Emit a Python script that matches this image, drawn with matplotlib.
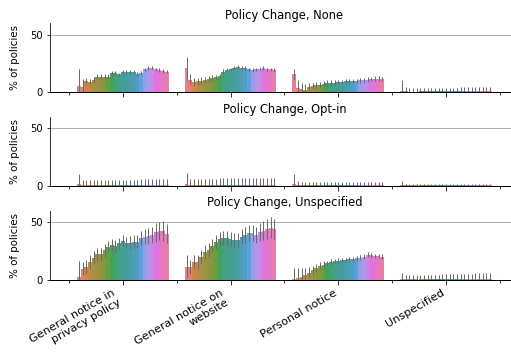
import matplotlib
matplotlib.use("Agg")
import matplotlib.pyplot as plt
import numpy as np
import seaborn as sns

categories = ["General notice in\nprivacy policy", "General notice on\nwebsite",
              "Personal notice", "Unspecified"]
panel_titles = ["Policy Change, None", "Policy Change, Opt-in", "Policy Change, Unspecified"]
n_hue = 25

# Panel: Policy Change, None
none_privacy = [5.5, 5, 10, 9, 10.5, 13.5, 13.5, 13.5, 13.5, 16.5, 17, 15.5, 17.5, 18, 17.5,
                17.5, 16, 17, 20, 21, 21.5, 20, 19.5, 18.5, 18]
none_privacy_err = [15, 6.5, 2.5, 2.5, 2.5, 2, 2, 2, 2, 2, 1.5, 1.5, 1.5, 1.5, 1.5,
                    1.5, 1.5, 1.5, 1.5, 1.5, 1.5, 1.5, 1.5, 1.5, 1.5]
none_website = [21, 11, 9, 9.5, 10, 11, 11.5, 12.5, 13, 14, 18, 19.5, 20, 21.5, 22,
                21, 21, 20, 19.5, 20, 20.5, 21, 20, 20, 19.5]
none_website_err = [10, 5, 3.5, 3, 3, 2.5, 2.5, 2.5, 2, 2, 2, 1.5, 1.5, 1.5, 1.5,
                    1.5, 1.5, 1.5, 1.5, 1.5, 1.5, 1.5, 1.5, 1.5, 1.5]
none_personal = [15.5, 4, 3, 2, 5, 5.5, 6, 6.5, 7.5, 8, 8.5, 8.5, 9, 9, 9.5,
                 9.5, 10, 10, 10.5, 10.5, 11, 11.5, 12, 12, 11.5]
none_personal_err = [5, 7, 5, 5, 3, 3, 3, 2.5, 2.5, 2.5, 2, 2, 2, 2, 2,
                     2, 2, 2, 2, 2, 2, 2, 2, 2, 2]
none_unspec = [1.5, 0.8, 0.6, 0.6, 0.6, 0.7, 0.7, 0.7, 0.8, 0.8, 0.8, 0.8, 0.9, 0.9, 0.9,
               0.9, 1.0, 1.0, 1.0, 1.0, 1.1, 1.1, 1.1, 1.2, 1.2]
none_unspec_err = [9.5, 3.5, 3, 3, 3, 3, 3, 3, 3, 3, 3, 3, 3.2, 3.2, 3.2,
                   3.2, 3.3, 3.3, 3.3, 3.4, 3.4, 3.4, 3.5, 3.5, 3.5]

# Panel: Policy Change, Opt-in
optin_privacy = [1.5, 0.6, 0.6, 0.6, 0.6, 0.6, 0.7, 0.7, 0.7, 0.7, 0.7, 0.7, 0.7, 0.8, 0.8,
                 0.8, 0.8, 0.8, 0.8, 0.8, 0.8, 0.8, 0.8, 0.8, 0.8]
optin_privacy_err = [9, 4.5, 4.3, 4.3, 4.3, 4.3, 4.4, 4.4, 4.4, 4.4, 4.5, 4.5, 4.5, 4.5, 4.5,
                     4.5, 4.5, 4.6, 4.6, 4.6, 4.6, 4.6, 4.7, 4.7, 4.7]
optin_website = [1.5, 0.8, 0.8, 0.8, 0.8, 0.9, 0.9, 0.9, 0.9, 1.0, 1.0, 1.0, 1.0, 1.0, 1.0,
                 1.0, 1.0, 1.0, 1.0, 1.0, 1.0, 1.0, 1.0, 1.0, 1.0]
optin_website_err = [9.5, 5, 5, 5, 5, 5.2, 5.2, 5.3, 5.3, 5.4, 5.4, 5.5, 5.5, 5.5, 5.6,
                     5.6, 5.6, 5.7, 5.7, 5.7, 5.8, 5.8, 5.8, 5.8, 5.8]
optin_personal = [1.5, 0.5, 0.5, 0.5, 0.5, 0.5, 0.5, 0.6, 0.6, 0.6, 0.6, 0.6, 0.6, 0.6, 0.6,
                  0.6, 0.6, 0.6, 0.6, 0.6, 0.6, 0.6, 0.6, 0.6, 0.6]
optin_personal_err = [8.5, 3.5, 3, 3, 3, 3, 3, 3, 3, 3, 3, 3, 3, 3, 3,
                      3, 3, 3, 3, 3, 3, 3, 3, 3, 3]
optin_unspec = [0.8, 0.3, 0.3, 0.3, 0.3, 0.3, 0.3, 0.3, 0.3, 0.3, 0.3, 0.3, 0.3, 0.3, 0.3,
                0.3, 0.3, 0.3, 0.3, 0.3, 0.3, 0.3, 0.3, 0.3, 0.3]
optin_unspec_err = [3.2, 1.5, 1.3, 1.3, 1.3, 1.3, 1.3, 1.3, 1.3, 1.3, 1.3, 1.3, 1.3, 1.3, 1.3,
                    1.3, 1.3, 1.3, 1.3, 1.3, 1.3, 1.3, 1.3, 1.3, 1.3]

# Panel: Policy Change, Unspecified
unsp_privacy = [2, 9.5, 11, 15, 19, 22, 22, 25.5, 28.5, 30, 29, 31.5, 33.5, 32, 32,
                33, 33, 36, 37, 38, 39, 41, 42, 42, 40]
unsp_privacy_err = [14, 6, 6, 6, 5.5, 5.5, 5.5, 5.5, 5, 5, 5, 5, 5, 5, 5.5,
                    5.5, 6, 6, 6.5, 7, 7, 8, 8, 8.5, 8]
unsp_website = [11, 11, 15, 15, 19.5, 24, 26, 29.5, 32.5, 35, 36, 36, 35.5, 34.5, 34.5,
                37, 38.5, 40.5, 40.5, 39, 41.5, 42.5, 44, 45, 44]
unsp_website_err = [10, 6, 6, 6, 6, 6, 6, 6, 6, 6, 6, 6, 6, 6, 6,
                    6.5, 7, 7, 7, 7, 8, 8, 9, 9, 9]
unsp_personal = [0.5, 1, 2, 4, 6, 8, 10, 12, 13, 14, 15, 16, 16.5, 17, 17,
                 17.5, 18, 18.5, 19, 20, 21.5, 21, 20.5, 20.5, 20]
unsp_personal_err = [9.5, 9, 8, 6, 5, 4, 3.5, 3, 3, 2.5, 2.5, 2, 2, 2, 2,
                     2, 2, 2, 2, 2, 2, 2, 2, 2, 2]
unsp_unspec = [0.8, 0.4, 0.4, 0.4, 0.4, 0.4, 0.4, 0.5, 0.5, 0.5, 0.5, 0.5, 0.5, 0.5, 0.6,
               0.6, 0.6, 0.6, 0.6, 0.6, 0.7, 0.7, 0.7, 0.7, 0.7]
unsp_unspec_err = [4.5, 3.5, 3.5, 3.5, 3.5, 3.6, 3.6, 3.7, 3.7, 3.8, 3.8, 3.9, 3.9, 4.0, 4.0,
                   4.1, 4.2, 4.3, 4.4, 4.5, 4.6, 4.7, 4.8, 4.9, 5.0]

panels = [
    [(none_privacy, none_privacy_err), (none_website, none_website_err),
     (none_personal, none_personal_err), (none_unspec, none_unspec_err)],
    [(optin_privacy, optin_privacy_err), (optin_website, optin_website_err),
     (optin_personal, optin_personal_err), (optin_unspec, optin_unspec_err)],
    [(unsp_privacy, unsp_privacy_err), (unsp_website, unsp_website_err),
     (unsp_personal, unsp_personal_err), (unsp_unspec, unsp_unspec_err)],
]

palette = [sns.desaturate(c, 0.75) for c in sns.husl_palette(n_hue)]

W, H = 511, 354
fig = plt.figure(figsize=(W / 72, H / 72), dpi=72)

ax_left = 50 / W
ax_width = 469 / W
ax_h = 69 / H
bottoms = [1 - 92.3 / H, 1 - 185.7 / H, 1 - 279.5 / H]

group_w = 0.85
bw = group_w / n_hue

for i, (title, pdata) in enumerate(zip(panel_titles, panels)):
    ax = fig.add_axes([ax_left, bottoms[i], ax_width, ax_h])
    for j, (vals, errs) in enumerate(pdata):
        vals = np.array(vals, dtype=float)
        errs = np.array(errs, dtype=float)
        xs = j - group_w / 2 + (np.arange(n_hue) + 0.5) * bw
        ax.bar(xs, vals, width=bw, color=palette, linewidth=0, zorder=2)
        lo = np.minimum(errs, vals)
        ax.errorbar(xs, vals, yerr=[lo, errs], fmt="none", ecolor="0.42",
                    elinewidth=1.0, capsize=0, zorder=3)
    ax.set_xlim(-0.676, 3.678)
    ax.set_ylim(0, 60)
    ax.set_yticks([0, 50])
    ax.yaxis.grid(True, color="0.68", linewidth=1.0, zorder=0)
    ax.set_axisbelow(True)
    ax.spines["top"].set_visible(False)
    ax.spines["right"].set_visible(False)
    ax.spines["left"].set_linewidth(0.8)
    ax.spines["bottom"].set_linewidth(1.0)
    ax.set_xticks(range(len(categories)))
    ax.set_xticks(np.arange(-0.5, 4.0, 1.0), minor=True)
    ax.tick_params(axis="x", which="major", length=4.5, width=0.8)
    ax.tick_params(axis="x", which="minor", length=2.5, width=0.8)
    ax.tick_params(axis="y", length=3.5, width=0.8, labelsize=10)
    ax.set_ylabel("% of policies", fontsize=10.3)
    ax.yaxis.set_label_coords(-0.064, 0.5)
    ax.set_title(title, fontsize=11.5, pad=4)
    if i < 2:
        ax.set_xticklabels([])
    else:
        ax.set_xticklabels(categories, rotation=30, ha="right", fontsize=11.2)

fig.savefig("out.png", dpi=72)
